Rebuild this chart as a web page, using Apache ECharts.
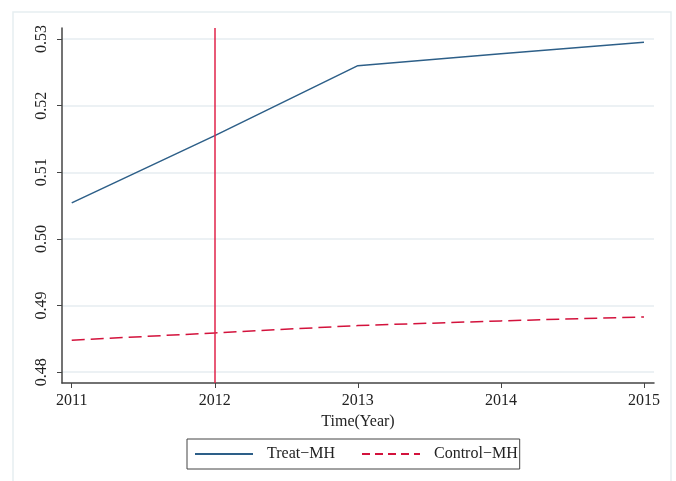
<!DOCTYPE html>
<html>
<head>
<meta charset="utf-8">
<script src="https://cdn.jsdelivr.net/npm/echarts@6/dist/echarts.min.js"></script>
<style>
  html, body { margin: 0; padding: 0; background: #fff; }
  #chart { width: 676px; height: 481px; }
</style>
</head>
<body>
<div id="chart"></div>
<script>
// data
var years = [2011, 2012, 2013, 2014, 2015];
var treatMH = [0.5054, 0.5155, 0.5260, 0.5278, 0.5295];
var controlMH = [0.4848, 0.4859, 0.4870, 0.4877, 0.4883];
var yTicks = [0.48, 0.49, 0.50, 0.51, 0.52, 0.53];
var policyYear = 2012;

var serif = 'Liberation Serif';

function pairs(xs, ys) {
    var list = [];
    for (var i = 0; i < xs.length; i++) {
        list.push([xs[i], ys[i]]);
    }
    return list;
}

var chart = echarts.init(document.getElementById('chart'));
chart.setOption({
    animation: false,
    graphic: [{
        type: 'rect',
        shape: {x: 13, y: 12, width: 658, height: 500},
        style: {fill: 'none', stroke: '#e6eef1', lineWidth: 1.5},
        silent: true
    }],
    grid: {
        left: 62,
        right: 22,
        top: 28,
        bottom: 98
    },
    legend: {
        left: 187,
        top: 439,
        data: [
            {name: 'Treat\u2212MH'},
            {name: 'Control\u2212MH', lineStyle: {type: [8, 5]}}
        ],
        itemWidth: 58,
        itemHeight: 14,
        itemGap: 26,
        padding: [7, 2, 7, 7],
        borderColor: '#444',
        borderWidth: 1,
        backgroundColor: '#fff',
        itemStyle: {opacity: 0},
        textStyle: {
            fontFamily: serif,
            fontSize: 16,
            color: '#222',
            padding: [0, 0, 0, 9]
        }
    },
    xAxis: {
        type: 'value',
        min: 2010.932,
        max: 2015.07,
        name: 'Time(Year)',
        nameLocation: 'middle',
        nameGap: 28,
        nameTextStyle: {fontFamily: serif, fontSize: 16, color: '#222'},
        axisLine: {lineStyle: {color: '#444', width: 1.5}},
        axisTick: {show: true, length: 5, customValues: years, lineStyle: {color: '#444'}},
        axisLabel: {
            customValues: years,
            margin: 10,
            fontFamily: serif,
            fontSize: 16,
            color: '#222',
            formatter: function (v) {
                return String(v);
            }
        },
        splitLine: {show: false}
    },
    yAxis: {
        type: 'value',
        min: 0.47838,
        max: 0.53165,
        axisLine: {show: true, lineStyle: {color: '#444', width: 1.5}},
        axisTick: {show: true, length: 5, customValues: yTicks, lineStyle: {color: '#444'}},
        axisLabel: {
            customValues: yTicks,
            rotate: 90,
            margin: 12,
            fontFamily: serif,
            fontSize: 16,
            color: '#222',
            formatter: function (v) {
                return v.toFixed(2);
            }
        },
        splitLine: {show: true, lineStyle: {color: '#e6edf0', width: 1.5}}
    },
    series: [
        {
            name: 'Treat\u2212MH',
            type: 'line',
            symbol: 'none',
            lineStyle: {color: '#2d5f88', width: 1.5},
            itemStyle: {color: '#2d5f88'},
            data: pairs(years, treatMH),
            markLine: {
                silent: true,
                symbol: ['none', 'none'],
                label: {show: false},
                lineStyle: {color: '#e0234a', type: 'solid', width: 1.5},
                data: [{xAxis: policyYear}]
            }
        },
        {
            name: 'Control\u2212MH',
            type: 'line',
            symbol: 'none',
            lineStyle: {color: '#d3123c', width: 1.5, type: [13, 6]},
            itemStyle: {color: '#d3123c'},
            data: pairs(years, controlMH)
        }
    ]
});
</script>
</body>
</html>
